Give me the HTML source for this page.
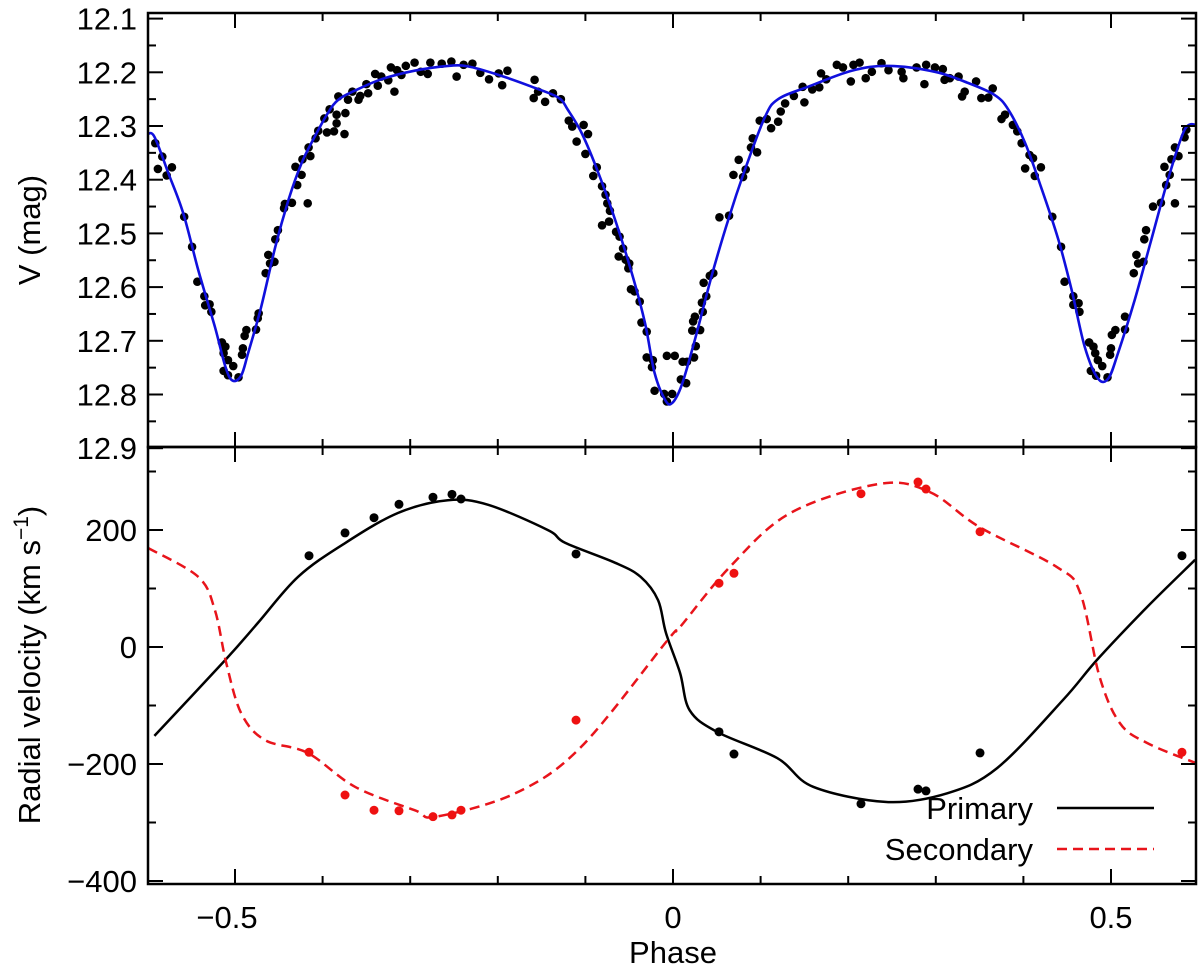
<!DOCTYPE html>
<html><head><meta charset="utf-8"><style>
html,body{margin:0;padding:0;background:#fff;}
svg text{font-family:"Liberation Sans",Arial,sans-serif;font-size:31px;fill:#000;}
</style></head><body>
<svg id="chart" width="1200" height="969" viewBox="0 0 1200 969" xmlns="http://www.w3.org/2000/svg">
<g id="g-top"></g>
<g id="g-bot"></g>
<g id="g-axes"></g>
<text x="40" y="230" text-anchor="middle" transform="rotate(-90 40 230)">V (mag)</text>
<text x="40" y="665" text-anchor="middle" transform="rotate(-90 40 665)">Radial velocity (km s<tspan dy="-12" font-size="21">−1</tspan><tspan dy="12">)</tspan></text>
<text x="673" y="963" text-anchor="middle">Phase</text>
<g>
<text x="1033" y="819" text-anchor="end">Primary</text>
<line x1="1057" y1="808" x2="1154" y2="808" stroke="#000" stroke-width="2.5"/>
<text x="1033" y="860" text-anchor="end">Secondary</text>
<line x1="1057" y1="849" x2="1154" y2="849" stroke="#e8141b" stroke-width="2.5" stroke-dasharray="10,6"/>
</g>
</svg>
<script>
// ---- Light curve data ----
const lcPhase = [-0.591,-0.588,-0.583,-0.578,-0.572,-0.558,-0.549,-0.543,-0.535,-0.534,-0.529,-0.527,-0.515,-0.511,-0.513,-0.508,-0.513,-0.508,-0.502,-0.496,-0.492,-0.491,-0.489,-0.487,-0.476,-0.474,-0.473,-0.465,-0.462,-0.460,-0.455,-0.454,-0.451,-0.444,-0.443,-0.435,-0.429,-0.431,-0.424,-0.423,-0.417,-0.416,-0.414,-0.408,-0.405,-0.398,-0.395,-0.392,-0.387,-0.384,-0.384,-0.382,-0.375,-0.374,-0.371,-0.366,-0.359,-0.357,-0.350,-0.348,-0.340,-0.337,-0.333,-0.325,-0.322,-0.318,-0.315,-0.310,-0.305,-0.295,-0.288,-0.280,-0.277,-0.264,-0.253,-0.247,-0.239,-0.229,-0.220,-0.210,-0.199,-0.195,-0.189,-0.159,-0.158,-0.154,-0.146,-0.137,-0.128,-0.119,-0.115,-0.110,-0.102,-0.100,-0.097,-0.091,-0.087,-0.081,-0.081,-0.077,-0.075,-0.073,-0.072,-0.065,-0.061,-0.062,-0.057,-0.054,-0.051,-0.050,-0.048,-0.044,-0.038,-0.036,-0.030,-0.030,-0.023,-0.024,-0.021,-0.010,-0.007,-0.007,
-0.001,0.002,0.009,0.011,0.015,0.016,0.024,0.026,0.022,0.023,0.025,0.031,0.034,0.033,0.038,0.035,0.042,0.046,0.053,0.064,0.069,0.075,0.080,0.083,0.089,0.091,0.096,0.099,0.107,0.112,0.120,0.123,0.128,0.138,0.148,0.150,0.159,0.167,0.169,0.175,0.187,0.194,0.203,0.206,0.213,0.220,0.227,0.238,0.246,0.261,0.263,0.278,0.287,0.289,0.299,0.308,0.310,0.316,0.326,0.330,0.333,0.346,0.352,0.360,0.365,0.375,0.379,0.388,0.393,0.398,0.402,0.407,0.411,0.413,0.420,0.433,0.443,0.447,0.457,0.457,0.463,0.464,0.475,0.480,0.482,0.485,0.477,0.483,0.490,0.496,0.499,0.500,0.501,0.505,0.516,0.516,0.526,0.529,0.531,0.537,0.538,0.540,0.548,0.557,0.563,0.561,0.567,0.569,0.573,0.573,0.577,0.584,0.586];
const lcMag = [12.332,12.380,12.357,12.392,12.377,12.469,12.525,12.590,12.617,12.634,12.632,12.646,12.703,12.711,12.723,12.736,12.756,12.764,12.747,12.768,12.726,12.714,12.691,12.680,12.679,12.658,12.649,12.574,12.540,12.556,12.553,12.511,12.494,12.453,12.445,12.443,12.410,12.376,12.391,12.362,12.444,12.340,12.356,12.323,12.309,12.286,12.312,12.269,12.310,12.295,12.279,12.245,12.315,12.276,12.251,12.236,12.251,12.244,12.222,12.239,12.203,12.225,12.208,12.215,12.191,12.236,12.196,12.205,12.188,12.182,12.199,12.203,12.182,12.184,12.180,12.208,12.186,12.184,12.201,12.213,12.202,12.224,12.197,12.248,12.214,12.236,12.255,12.239,12.250,12.290,12.301,12.329,12.298,12.352,12.315,12.393,12.377,12.412,12.485,12.428,12.444,12.478,12.458,12.497,12.506,12.543,12.528,12.549,12.565,12.556,12.604,12.608,12.627,12.666,12.683,12.731,12.736,12.749,12.793,12.799,12.728,12.813,
12.799,12.728,12.772,12.739,12.779,12.739,12.731,12.710,12.681,12.664,12.655,12.680,12.646,12.629,12.617,12.592,12.579,12.574,12.470,12.467,12.391,12.363,12.395,12.381,12.340,12.323,12.349,12.290,12.287,12.304,12.292,12.273,12.258,12.244,12.227,12.256,12.232,12.228,12.202,12.213,12.186,12.191,12.217,12.186,12.182,12.211,12.199,12.183,12.196,12.199,12.211,12.191,12.222,12.186,12.191,12.194,12.214,12.211,12.208,12.245,12.236,12.217,12.248,12.247,12.230,12.287,12.279,12.298,12.310,12.332,12.379,12.354,12.360,12.393,12.377,12.469,12.525,12.590,12.617,12.633,12.630,12.646,12.703,12.711,12.723,12.736,12.756,12.765,12.747,12.768,12.726,12.714,12.689,12.680,12.679,12.655,12.574,12.540,12.556,12.553,12.511,12.494,12.450,12.443,12.410,12.376,12.391,12.362,12.444,12.340,12.356,12.321,12.307];
const modelPhase = [-0.600,-0.592,-0.576,-0.559,-0.542,-0.523,-0.511,-0.503,-0.493,-0.485,-0.470,-0.454,-0.439,-0.424,-0.409,-0.394,-0.382,-0.363,-0.333,-0.295,-0.257,-0.234,-0.199,-0.161,-0.131,-0.120,-0.104,-0.085,-0.066,-0.047,-0.032,-0.021,-0.009,-0.001,0.010,0.025,0.044,0.063,0.082,0.105,0.120,0.154,0.204,0.246,0.299,0.337,0.367,0.383,0.402,0.420,0.440,0.455,0.470,0.485,0.497,0.508,0.527,0.546,0.565,0.584,0.598];
const modelMag = [12.315,12.320,12.388,12.463,12.568,12.674,12.748,12.774,12.765,12.723,12.636,12.525,12.438,12.369,12.320,12.276,12.251,12.234,12.213,12.197,12.188,12.189,12.205,12.227,12.247,12.270,12.314,12.388,12.475,12.574,12.667,12.760,12.810,12.816,12.782,12.698,12.580,12.475,12.382,12.283,12.250,12.227,12.197,12.188,12.199,12.220,12.242,12.270,12.332,12.413,12.512,12.605,12.711,12.770,12.770,12.723,12.624,12.512,12.400,12.307,12.298];
// ---- Radial velocity data ----
const rvPrimPhase = [-0.4155,-0.3744,-0.3413,-0.3128,-0.274,-0.2523,-0.242,-0.1107,0.0525,0.0696,0.2146,0.2797,0.2888,0.3505,0.581];
const rvPrimVel = [156,195,221,244,256,261,253,159,-145,-183,-268,-243,-246,-181,156];
const rvSecPhase = [-0.4155,-0.3744,-0.3413,-0.3128,-0.274,-0.2523,-0.242,-0.1107,0.0525,0.0696,0.2146,0.2797,0.2888,0.3505,0.581];
const rvSecVel = [-180,-253,-279,-280,-290,-287,-279,-125,109,126,262,282,270,197,-180];
const primModelPhase = [-0.592,-0.511,-0.474,-0.428,-0.374,-0.314,-0.257,-0.211,-0.143,-0.123,-0.066,-0.037,-0.017,-0.008,0.008,0.019,0.050,0.119,0.160,0.244,0.313,0.370,0.445,0.484,0.541,0.596];
const primModelVel = [-152,-22,41,120,178,229,251,243,200,178,144,120,80,24,-44,-108,-145,-190,-239,-265,-250,-207,-91,-22,68,149];
const secModelPhase = [-0.599,-0.542,-0.523,-0.510,-0.493,-0.466,-0.417,-0.363,-0.295,-0.270,-0.180,-0.105,-0.006,0.008,0.065,0.134,0.236,0.293,0.350,0.438,0.465,0.487,0.510,0.541,0.596];
const secModelVel = [169,120,63,-27,-113,-159,-181,-239,-279,-290,-250,-171,12,34,137,229,279,265,205,137,92,-51,-130,-164,-198];
const xTickLabels = ["−0.5","0","0.5"];
const xTickValues = [-0.5,0,0.5];
const magTicks = [12.1,12.2,12.3,12.4,12.5,12.6,12.7,12.8,12.9];
const velTicks = [200,0,-200,-400];
const velTickLabels = ["200","0","−200","−400"];

const NS = "http://www.w3.org/2000/svg";
const L = 148, R = 1196, T = 13, M = 447, B = 884;
const xs = p => 673 + p * 876;
const ym = m => 72.3 + (m - 12.2) * 537;
const yv = v => 647 - v * 0.585;
function mk(tag, attrs, parent) { const e = document.createElementNS(NS, tag); for (const k in attrs) e.setAttribute(k, attrs[k]); parent.appendChild(e); return e; }
function smooth(pts) {
  let d = "M" + pts[0][0].toFixed(1) + "," + pts[0][1].toFixed(1);
  for (let i = 0; i < pts.length - 1; i++) {
    const p0 = pts[i - 1] || pts[i], p1 = pts[i], p2 = pts[i + 1], p3 = pts[i + 2] || p2;
    const c1 = [p1[0] + (p2[0] - p0[0]) / 6, p1[1] + (p2[1] - p0[1]) / 6];
    const c2 = [p2[0] - (p3[0] - p1[0]) / 6, p2[1] - (p3[1] - p1[1]) / 6];
    d += "C" + c1[0].toFixed(1) + "," + c1[1].toFixed(1) + " " + c2[0].toFixed(1) + "," + c2[1].toFixed(1) + " " + p2[0].toFixed(1) + "," + p2[1].toFixed(1);
  }
  return d;
}
const gT = document.getElementById("g-top"), gB = document.getElementById("g-bot"), gA = document.getElementById("g-axes");
// clip paths
const defs = mk("defs", {}, document.getElementById("chart"));
const c1 = mk("clipPath", {id: "clipTop"}, defs); mk("rect", {x: L, y: T, width: R - L, height: M - T}, c1);
const c2 = mk("clipPath", {id: "clipBot"}, defs); mk("rect", {x: L, y: M, width: R - L, height: B - M}, c2);
gT.setAttribute("clip-path", "url(#clipTop)");
gB.setAttribute("clip-path", "url(#clipBot)");

// light curve points
lcPhase.forEach((p, i) => {
  const c = mk("circle", {cx: xs(p), cy: ym(lcMag[i]), r: 4.3, fill: "#000"}, gT);
  
  
});
const lm = mk("path", {d: smooth(modelPhase.map((p, i) => [xs(p), ym(modelMag[i])])), fill: "none", stroke: "#1010dd", "stroke-width": 2.6}, gT);



// RV curves
const pm = mk("path", {d: smooth(primModelPhase.map((p, i) => [xs(p), yv(primModelVel[i])])), fill: "none", stroke: "#000", "stroke-width": 2.5}, gB);


const sm = mk("path", {d: smooth(secModelPhase.map((p, i) => [xs(p), yv(secModelVel[i])])), fill: "none", stroke: "#e8141b", "stroke-width": 2.5, "stroke-dasharray": "10,6"}, gB);


rvPrimPhase.forEach((p, i) => {
  const c = mk("circle", {cx: xs(p), cy: yv(rvPrimVel[i]), r: 4.5, fill: "#000"}, gB);
  
  
});
rvSecPhase.forEach((p, i) => {
  const c = mk("circle", {cx: xs(p), cy: yv(rvSecVel[i]), r: 4.5, fill: "#ee1111"}, gB);
  
  
});

// axes frame
const st = {stroke: "#000", "stroke-width": 2.5, fill: "none"};
const fr1 = mk("rect", Object.assign({x: L, y: T, width: R - L, height: M - T}, st), gA);
 
const fr2 = mk("rect", Object.assign({x: L, y: M, width: R - L, height: B - M}, st), gA);
 
function tick(x1, y1, x2, y2) { mk("line", {x1, y1, x2, y2, stroke: "#000", "stroke-width": 2}, gA); }
// x ticks
for (let k = -6; k <= 6; k++) {
  const p = k / 10, x = xs(p);
  if (x < L + 1 || x > R - 1) continue;
  const len = (k % 5 === 0) ? 15 : 8;
  tick(x, T, x, T + len); tick(x, M, x, M - len); tick(x, M, x, M + len); tick(x, B, x, B - len);
}
// mag ticks
for (let k = 0; k <= 16; k++) {
  const m = 12.1 + k * 0.05, y = ym(m);
  const len = (k % 2 === 0) ? 15 : 8;
  tick(L, y, L + len, y); tick(R, y, R - len, y);
}
// velocity ticks
for (let v = -400; v <= 300; v += 100) {
  const y = yv(v), len = (v % 200 === 0) ? 15 : 8;
  tick(L, y, L + len, y); tick(R, y, R - len, y);
}
magTicks.forEach(m => {
  const t = mk("text", {x: 137, y: ym(m) + 11, "text-anchor": "end"}, gA);
  t.textContent = m.toFixed(1);
  
  
});
velTicks.forEach((v, i) => {
  const t = mk("text", {x: 137, y: yv(v) + 11, "text-anchor": "end"}, gA);
  t.textContent = velTickLabels[i];
  
  
});
xTickValues.forEach((p, i) => {
  const t = mk("text", {x: xs(p) + (i === 0 ? -8 : 0), y: 928, "text-anchor": "middle"}, gA);
  t.textContent = xTickLabels[i];
  
  
});
</script>
</body></html>
